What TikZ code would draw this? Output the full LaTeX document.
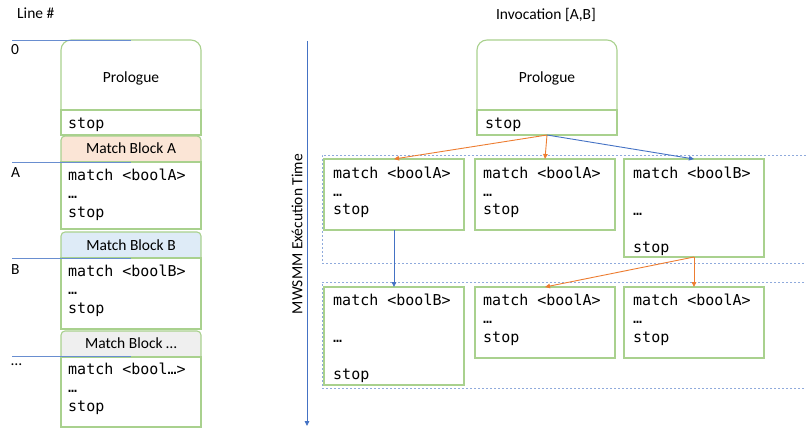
\documentclass[tikz,border=0pt]{standalone}
\usepackage{fontspec}
\setmainfont{Carlito}
\newfontfamily\codefont{DejaVu Sans Mono}
\usetikzlibrary{arrows.meta}
\definecolor{gbox}{HTML}{A9D18E}
\definecolor{obl}{HTML}{ED7D31}
\definecolor{bbl}{HTML}{4472C4}
\definecolor{lbl}{HTML}{8FAADC}
\definecolor{hA}{HTML}{FBE5D6}
\definecolor{hB}{HTML}{DEEBF7}
\definecolor{hC}{HTML}{EFEFEF}
\begin{document}
\begin{tikzpicture}[x=1pt,y=-1pt,
 box/.style={draw=gbox, line width=1.1pt, fill=white, inner sep=0pt, outer sep=0pt, anchor=north west},
 lab/.style={inner sep=0pt, anchor=base, font=\fontsize{15.5}{18}\selectfont},
 codeline/.style={inner sep=0pt, anchor=base west, font=\codefont\fontsize{15}{18}\selectfont},
 grp/.style={draw=lbl, dash pattern=on 2pt off 2pt, line width=0.9pt, inner sep=0pt, outer sep=0pt, anchor=north west},
 oarr/.style={draw=obl, line width=0.9pt, -{Triangle[length=5pt,width=4.5pt]}},
 barr/.style={draw=bbl, line width=0.9pt, -{Triangle[length=5pt,width=4.5pt]}},
 lineline/.style={draw=bbl!80!white, line width=0.9pt}
]
\useasboundingbox (0,0) rectangle (806,428);

% ---------------- left column ----------------
\node[lab, anchor=base west] (linehdr) at (17,19) {Line \#};

\node[box, rounded corners=10pt, minimum width=140pt, minimum height=95pt] (lpro) at (61,40) {};
\node[box, minimum width=140pt, minimum height=25pt] (lstop) at (61,110) {};
\node[lab] (lprot) at (131,82) {Prologue};
\node[codeline] (lstopt) at (68,128) {stop};

\node[box, fill=hA, rounded corners=4pt, minimum width=140pt, minimum height=30pt] (lha) at (61,136) {};
\node[box, minimum width=140pt, minimum height=67pt] (lba) at (61,162) {};
\node[lab] (lhat) at (131,153) {Match Block A};
\node[codeline] (la1) at (68,180) {match <boolA>};
\node[codeline] (la2) at (68,198) {…};
\node[codeline] (la3) at (68,217) {stop};

\node[box, fill=hB, rounded corners=4pt, minimum width=140pt, minimum height=30pt] (lhb) at (61,232) {};
\node[box, minimum width=140pt, minimum height=71pt] (lbb) at (61,258) {};
\node[lab] (lhbt) at (131,250) {Match Block B};
\node[codeline] (lb1) at (68,276) {match <boolB>};
\node[codeline] (lb2) at (68,294) {…};
\node[codeline] (lb3) at (68,313) {stop};

\node[box, fill=hC, rounded corners=4pt, minimum width=140pt, minimum height=30pt] (lhc) at (61,331) {};
\node[box, minimum width=140pt, minimum height=70pt] (lbc) at (61,357) {};
\node[lab] (lhct) at (131,348) {Match Block …};
\node[codeline] (lc1) at (68,374) {match <bool…>};
\node[codeline] (lc2) at (68,392) {…};
\node[codeline] (lc3) at (68,411) {stop};

\node[lab, anchor=base west] (l0) at (11,55) {0};
\node[lab, anchor=base west] (lA) at (11,177) {A};
\node[lab, anchor=base west] (lB) at (11,274) {B};
\node[lab, anchor=base west] (lD) at (11,365) {…};

\coordinate (m0a) at (12,40);  \coordinate (m0b) at (131,40);
\coordinate (mAa) at (12,162); \coordinate (mAb) at (131,162);
\coordinate (mBa) at (12,258); \coordinate (mBb) at (131,258);
\coordinate (mCa) at (12,356); \coordinate (mCb) at (131,356);
\draw[lineline] (m0a) -- (m0b);
\draw[lineline] (mAa) -- (mAb);
\draw[lineline] (mBa) -- (mBb);
\draw[lineline] (mCa) -- (mCb);

% ---------------- right part ----------------
\node[lab] (invt) at (546,20) {Invocation [A,B]};

\coordinate (ax1) at (307,41);
\coordinate (ax2) at (307,426);
\draw[barr] (ax1) -- (ax2);
\node[lab, rotate=90, anchor=center] (axt) at (297,234) {MWSMM Exécution Time};

\node[grp, minimum width=500pt, minimum height=108pt] (g1) at (322,155) {};
\node[grp, minimum width=500pt, minimum height=106pt] (g2) at (322,282) {};

\node[box, rounded corners=10pt, minimum width=140pt, minimum height=95pt] (rpro) at (477,40) {};
\node[box, minimum width=140pt, minimum height=25pt] (rstop) at (477,110) {};
\node[lab] (rprot) at (547,82) {Prologue};
\node[codeline] (rstopt) at (485,128) {stop};

\node[box, minimum width=140pt, minimum height=71pt] (r1a) at (324,159) {};
\node[box, minimum width=140pt, minimum height=71pt] (r1b) at (475,159) {};
\node[box, minimum width=140pt, minimum height=98pt] (r1c) at (624,159) {};
\node[codeline] (r1a1) at (333,178) {match <boolA>};
\node[codeline] (r1a2) at (333,196) {…};
\node[codeline] (r1a3) at (333,214) {stop};
\node[codeline] (r1b1) at (483,178) {match <boolA>};
\node[codeline] (r1b2) at (483,196) {…};
\node[codeline] (r1b3) at (483,214) {stop};
\node[codeline] (r1c1) at (633,178) {match <boolB>};
\node[codeline] (r1c2) at (633,215) {…};
\node[codeline] (r1c3) at (633,252) {stop};

\node[box, minimum width=140pt, minimum height=98pt] (r2a) at (324,287) {};
\node[box, minimum width=140pt, minimum height=71pt] (r2b) at (475,287) {};
\node[box, minimum width=140pt, minimum height=71pt] (r2c) at (624,287) {};
\node[codeline] (r2a1) at (333,305) {match <boolB>};
\node[codeline] (r2a2) at (333,342) {…};
\node[codeline] (r2a3) at (333,379) {stop};
\node[codeline] (r2b1) at (483,305) {match <boolA>};
\node[codeline] (r2b2) at (483,323) {…};
\node[codeline] (r2b3) at (483,342) {stop};
\node[codeline] (r2c1) at (633,305) {match <boolA>};
\node[codeline] (r2c2) at (633,323) {…};
\node[codeline] (r2c3) at (633,342) {stop};

\draw[oarr] (rstop.south) -- (r1a.north);
\draw[oarr] (rstop.south) -- (r1b.north);
\draw[barr] (rstop.south) -- (r1c.north);
\draw[barr] (r1a.south) -- (r2a.north);
\draw[oarr] (r1c.south) -- (r2b.north);
\draw[oarr] (r1c.south) -- (r2c.north);
\end{tikzpicture}
\end{document}
